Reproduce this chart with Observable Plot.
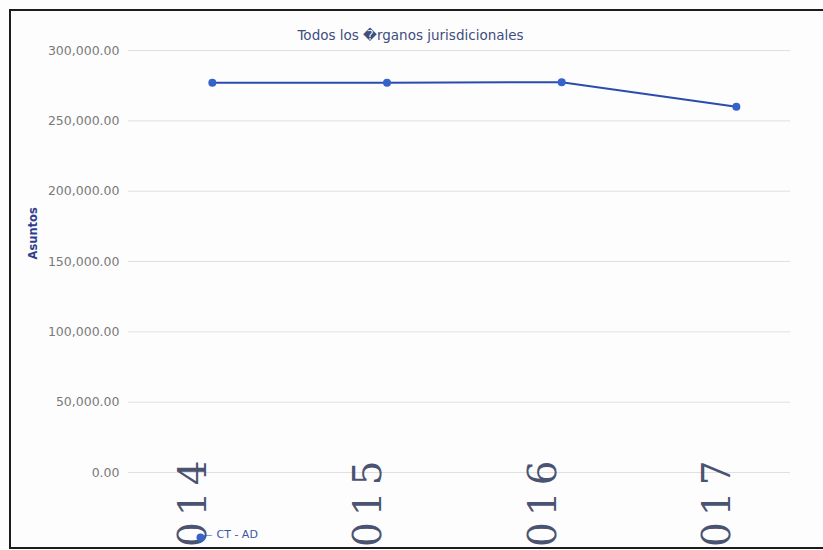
<!DOCTYPE html>
<html>
<head>
<meta charset="utf-8">
<script src="https://cdn.jsdelivr.net/npm/d3@7"></script>
<script src="https://cdn.jsdelivr.net/npm/@observablehq/plot@0.6"></script>
<style>
  html, body { margin: 0; padding: 0; background: #fdfdfd; }
  #wrap { position: relative; width: 823px; height: 550px; overflow: hidden; }
  #frame {
    position: absolute; left: 9px; top: 9px; width: 840px; height: 536px;
    border: 2.5px solid #1c1c1c; border-right: none; pointer-events: none;
  }
</style>
</head>
<body>
<div id="wrap"><div id="frame"></div></div>
<script>
// Yearly caseload ("Asuntos") for all courts, series CT - AD
const years = [2014, 2015, 2016, 2017];
const asuntos = [277000, 277000, 277500, 260000];
const yTicks = [0, 50000, 100000, 150000, 200000, 250000, 300000];
const seriesName = "CT - AD";
const chartTitle = "Todos los \uFFFDrganos jurisdicionales";
const yLabel = "Asuntos";

const data = years.map((year, i) => ({year, value: asuntos[i]}));

const lineColor = "#2b4cae";
const dotColor = "#3463c9";

const chart = Plot.plot({
  width: 823,
  height: 550,
  marginTop: 50,
  marginBottom: 78,
  marginLeft: 128,
  marginRight: 33,
  style: {background: "transparent", fontFamily: "DejaVu Sans, sans-serif", overflow: "visible"},
  x: {type: "linear", domain: [2013.52, 2017.31], axis: null},
  y: {domain: [0, 300000], axis: null},
  marks: [
    Plot.ruleY(yTicks, {stroke: "#e0e0e0", strokeWidth: 1}),
    Plot.axisY(yTicks, {
      tickFormat: d3.format(",.2f"), tickSize: 0, tickPadding: 9,
      fontSize: 12.5, fill: "#7a7a7a", label: null
    }),
    Plot.line(data, {x: "year", y: "value", stroke: lineColor, strokeWidth: 2}),
    Plot.dot(data, {x: "year", y: "value", r: 4, fill: dotColor}),
    // large rotated year labels running off the bottom edge
    Plot.text(years, {
      x: d => d, text: d => String(d), frameAnchor: "bottom",
      rotate: -90, textAnchor: "end", dx: -6, dy: -18,
      fontSize: 39, fontFamily: "DejaVu Serif, serif", fill: "#4a5472"
    }),
    // chart title
    Plot.text([chartTitle], {
      text: d => d, frameAnchor: "top", dx: -49, dy: -20,
      fontSize: 13.5, fill: "#3f4e7e"
    }),
    // y axis title
    Plot.text([yLabel], {
      text: d => d, frameAnchor: "left", dx: -95, dy: -2, rotate: -90,
      fontSize: 11.5, fontWeight: "bold", fill: "#2e3f8f"
    }),
    // legend item
    Plot.text(["\u2014"], {
      text: d => d, frameAnchor: "bottom-left", dx: 75, dy: 65,
      textAnchor: "start", fontSize: 9, fill: lineColor
    }),
    Plot.dot([seriesName], {
      frameAnchor: "bottom-left", dx: 72, dy: 65, r: 4, fill: dotColor
    }),
    Plot.text([seriesName], {
      text: d => d, frameAnchor: "bottom-left", dx: 88, dy: 65,
      textAnchor: "start", fontSize: 11, fill: "#3b55a8"
    })
  ]
});

// widen the spacing of the big year labels
d3.select(chart).selectAll("text")
  .filter(function () { return /^\d{4}$/.test(this.textContent); })
  .attr("letter-spacing", "6px");

document.getElementById("wrap").prepend(chart);
</script>
</body>
</html>
